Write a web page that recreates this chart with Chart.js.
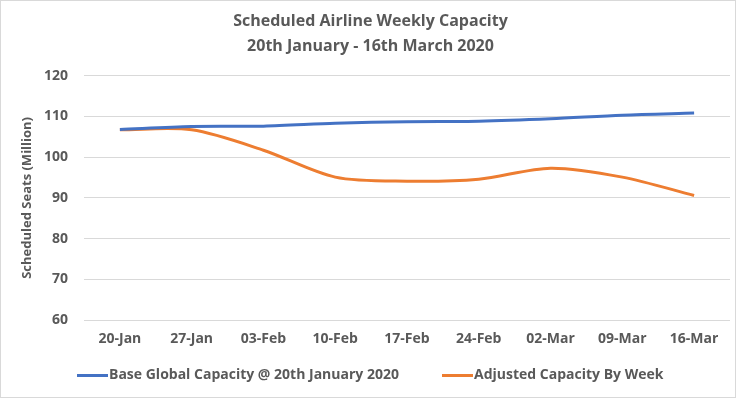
<!DOCTYPE html>
<html>
<head>
  <style>
    html, body { margin: 0; padding: 0; background: #ffffff; }
    #wrap {
      position: absolute; left: 0; top: 0;
      width: 734px; height: 396px;
      border: 1px solid #d9d9d9;
    }
    #legend {
      position: absolute; left: 0; top: 362px; width: 734px; height: 22px;
      font-family: "Open Sans", "Noto Sans", sans-serif;
      font-size: 14px; font-weight: bold; color: #595959;
    }
    .item { position: absolute; top: 0; line-height: 22px; white-space: nowrap; }
    .swatch { display: inline-block; width: 31px; height: 3px; vertical-align: middle; margin-right: 1px; }
  </style>
  <script src="https://cdn.jsdelivr.net/npm/chart.js"></script>
</head>
<body>
  <div id="wrap">
    <canvas id="myChart" width="734" height="396"></canvas>
    <div id="legend"></div>
  </div>
  <script>
    // weeks on the x axis
    const weeks = ['20-Jan', '27-Jan', '03-Feb', '10-Feb', '17-Feb', '24-Feb', '02-Mar', '09-Mar', '16-Mar'];
    // seats, millions
    const baseCapacity = [106.8, 107.5, 107.6, 108.3, 108.7, 108.8, 109.4, 110.3, 110.8];
    const adjustedCapacity = [106.7, 106.7, 101.7, 95.1, 94.1, 94.6, 97.3, 95.1, 90.6];
    const yTicks = [60, 70, 80, 90, 100, 110, 120];

    const textGrey = '#595959';
    const fontFam = '"Open Sans", "Noto Sans", sans-serif';

    var ctx = document.getElementById('myChart').getContext('2d');
    var myChart = new Chart(ctx, {
      type: 'line',
      data: {
        labels: weeks,
        datasets: [{
          label: 'Base Global Capacity @ 20th January 2020',
          data: baseCapacity,
          borderColor: '#4472C4',
          backgroundColor: '#4472C4',
          borderWidth: 3,
          pointRadius: 0,
          tension: 0.3
        }, {
          label: 'Adjusted Capacity By Week',
          data: adjustedCapacity,
          borderColor: '#ED7D31',
          backgroundColor: '#ED7D31',
          borderWidth: 3,
          pointRadius: 0,
          tension: 0.3
        }]
      },
      options: {
        responsive: false,
        animation: false,
        layout: { padding: { left: 10, right: 5, top: 6, bottom: 48 } },
        plugins: {
          title: {
            display: true,
            text: ['Scheduled Airline Weekly Capacity', '20th January - 16th March 2020'],
            color: textGrey,
            font: { family: fontFam, size: 16, weight: 'bold', lineHeight: 1.55 },
            padding: { top: 2, bottom: 17 }
          },
          legend: { display: false },
          tooltip: { enabled: false }
        },
        scales: {
          x: {
            offset: true,
            grid: { display: false },
            border: { display: false },
            ticks: {
              color: textGrey,
              font: { family: fontFam, size: 14, weight: 'bold' },
              maxRotation: 0,
              padding: 2
            }
          },
          y: {
            min: 60,
            max: 120,
            afterBuildTicks: function (axis) {
              axis.ticks = yTicks.map(v => ({ value: v }));
            },
            afterFit: function (axis) {
              axis.width = 73;
            },
            grid: { color: '#d9d9d9', lineWidth: 1, drawTicks: false },
            border: { display: false },
            ticks: {
              color: textGrey,
              font: { family: fontFam, size: 14, weight: 'bold' },
              padding: 16
            },
            title: {
              display: true,
              text: 'Scheduled Seats (Million)',
              color: textGrey,
              font: { family: fontFam, size: 13, weight: 'bold' },
              padding: { top: 8, bottom: 8 }
            }
          }
        }
      }
    });

    // html legend, built from the datasets
    const legendLeft = [76, 441];
    document.getElementById('legend').innerHTML = myChart.data.datasets.map((ds, i) =>
      `<span class="item" style="left:${legendLeft[i]}px"><span class="swatch" style="background:${ds.borderColor}"></span>${ds.label}</span>`
    ).join('');
  </script>
</body>
</html>
